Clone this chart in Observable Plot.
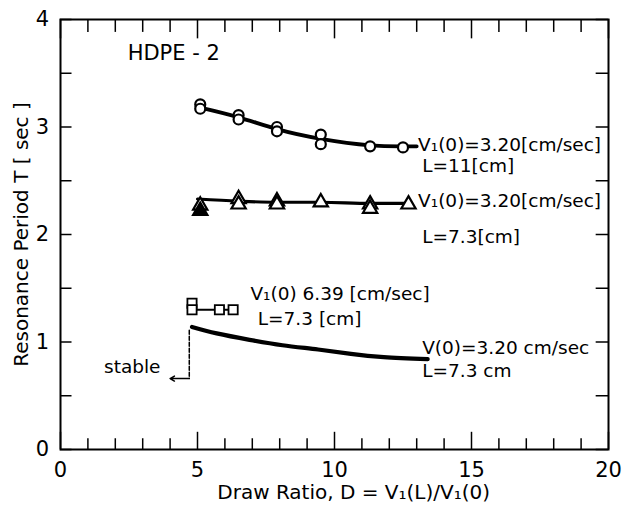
<!DOCTYPE html>
<html><head><meta charset="utf-8">
<script src="https://cdn.jsdelivr.net/npm/d3@7"></script>
<script src="https://cdn.jsdelivr.net/npm/@observablehq/plot@0.6"></script>
<style>body{margin:0;background:#fff} svg{display:block}</style>
</head><body><div id="chart"></div>
<script>
// Circles: V1(0)=3.20 cm/sec, L=11 cm
const circleD = [5.1, 5.1, 6.5, 6.5, 7.9, 7.9, 9.5, 9.5, 11.3, 12.5];
const circleT = [3.21, 3.17, 3.11, 3.07, 3.00, 2.96, 2.93, 2.84, 2.82, 2.81];
const circleFitD = [5.1, 6.5, 7.9, 9.5, 11.3, 12.5, 13.0];
const circleFitT = [3.18, 3.09, 2.98, 2.89, 2.83, 2.82, 2.82];
// Triangles: V1(0)=3.20 cm/sec, L=7.3 cm
const triD = [5.1, 5.1, 6.5, 6.5, 7.9, 7.9, 9.5, 11.3, 11.3, 12.7];
const triT = [2.27, 2.22, 2.33, 2.28, 2.31, 2.28, 2.30, 2.28, 2.24, 2.28];
const triFilled = [false, true, false, false, false, false, false, false, false, false];
const triFitD = [5.0, 6.5, 7.9, 9.5, 11.3, 12.7];
const triFitT = [2.33, 2.31, 2.30, 2.30, 2.29, 2.29];
// Squares: V1(0)=6.39 cm/sec, L=7.3 cm
const sqD = [4.8, 4.8, 5.8, 6.3];
const sqT = [1.36, 1.30, 1.30, 1.30];
// Curve: V(0)=3.20 cm/sec, L=7.3 cm
const curveD = [4.8, 5.7, 6.9, 8.1, 9.4, 10.6, 11.8, 13.4];
const curveT = [1.14, 1.08, 1.02, 0.97, 0.93, 0.89, 0.86, 0.84];
// stable boundary
const stableD = [4.7, 4.7];
const stableT = [1.11, 0.66];
const stableArrowTo = 4.0;
// ticks
const xTicks = d3.range(0, 21, 1);
const xLabels = [0, 5, 10, 15, 20];
const yTicks = d3.range(0, 4.01, 0.5);
const yLabels = [0, 1, 2, 3, 4];
// annotations
const notes = [
  {text: "V\u2081(0)=3.20[cm/sec]", x: 13.05, y: 2.83},
  {text: "L=11[cm]", x: 13.2, y: 2.64},
  {text: "V\u2081(0)=3.20[cm/sec]", x: 13.05, y: 2.31},
  {text: "L=7.3[cm]", x: 13.2, y: 1.98},
  {text: "V\u2081(0) 6.39 [cm/sec]", x: 6.93, y: 1.45},
  {text: "L=7.3 [cm]", x: 7.2, y: 1.21},
  {text: "V(0)=3.20 cm/sec", x: 13.2, y: 0.94},
  {text: "L=7.3 cm", x: 13.2, y: 0.73}
];
const title = {text: "HDPE - 2", x: 2.45, y: 3.69};

const zip = (a, b) => a.map((v, i) => ({x: v, y: b[i]}));
const circles = zip(circleD, circleT);
const tris = triD.map((v, i) => ({x: v, y: triT[i], f: triFilled[i]}));
const sqs = zip(sqD, sqT);

const fs = 18.5;
const chart = Plot.plot({
  width: 624, height: 508,
  marginLeft: 60, marginRight: 16, marginTop: 19, marginBottom: 59,
  x: {domain: [0, 20], axis: null},
  y: {domain: [0, 4], axis: null},
  style: {fontFamily: "DejaVu Sans", background: "#fff", color: "#000"},
  marks: [
    Plot.frame({stroke: "#000", strokeWidth: 2}),
    // inward ticks
    Plot.ruleX(xTicks, {x: d => d, y1: 0, y2: d => d % 5 === 0 ? 0.16 : 0.1, stroke: "#000", strokeWidth: 1.5}),
    Plot.ruleX(xTicks, {x: d => d, y1: 4, y2: d => d % 5 === 0 ? 3.82 : 3.88, stroke: "#000", strokeWidth: 1.5}),
    Plot.ruleY(yTicks, {y: d => d, x1: 0, x2: 0.42, stroke: "#000", strokeWidth: 1.5}),
    Plot.ruleY(yTicks, {y: d => d, x1: 20, x2: 19.55, stroke: "#000", strokeWidth: 1.5}),
    // tick labels
    Plot.text(xLabels, {x: d => d, y: 0, dy: 21, text: d => String(d), fontSize: 21}),
    Plot.text(yLabels, {x: 0, y: d => d, dx: -18, text: d => String(d), fontSize: 21}),
    // axis titles
    Plot.text(["Draw Ratio, D = V\u2081(L)/V\u2081(0)"], {x: 10.7, y: 0, dy: 43, fontSize: 20}),
    Plot.text(["Resonance Period T [ sec ]"], {x: 0, y: 2.0, dx: -39, rotate: -90, fontSize: 20}),
    Plot.text([title], {x: "x", y: "y", text: "text", textAnchor: "start", fontSize: 21}),
    // fits
    Plot.line(zip(circleFitD, circleFitT), {x: "x", y: "y", curve: "natural", stroke: "#000", strokeWidth: 3.8}),
    Plot.line(zip(triFitD, triFitT), {x: "x", y: "y", curve: "monotone-x", stroke: "#000", strokeWidth: 3.2}),
    Plot.line(zip([4.8, 6.3], [1.30, 1.30]), {x: "x", y: "y", stroke: "#000", strokeWidth: 2}),
    Plot.line(zip(curveD, curveT), {x: "x", y: "y", curve: "natural", stroke: "#000", strokeWidth: 4.2}),
    // stable boundary
    Plot.line(zip(stableD, stableT), {x: "x", y: "y", stroke: "#000", strokeWidth: 1.5, strokeDasharray: "4,2"}),
    Plot.arrow([{x1: stableD[1], y1: stableT[1], x2: stableArrowTo, y2: stableT[1]}], {x1: "x1", y1: "y1", x2: "x2", y2: "y2", stroke: "#000", strokeWidth: 1.5, headLength: 5}),
    Plot.text(["stable"], {x: 3.65, y: 0.77, textAnchor: "end", fontSize: fs}),
    // markers
    Plot.dot(circles, {x: "x", y: "y", r: 5, stroke: "#000", strokeWidth: 2.2, fill: "#fff"}),
    Plot.dot(tris, {x: "x", y: "y", symbol: "triangle", r: 5.3, stroke: "#000", strokeWidth: 2.2, fill: d => d.f ? "#000" : "#fff"}),
    Plot.dot(sqs, {x: "x", y: "y", symbol: "square", r: 5.2, stroke: "#000", strokeWidth: 1.8, fill: "#fff"}),
    // annotations
    Plot.text(notes, {x: "x", y: "y", text: "text", textAnchor: "start", fontSize: fs})
  ]
});
document.getElementById("chart").appendChild(chart);
</script>
</body></html>
